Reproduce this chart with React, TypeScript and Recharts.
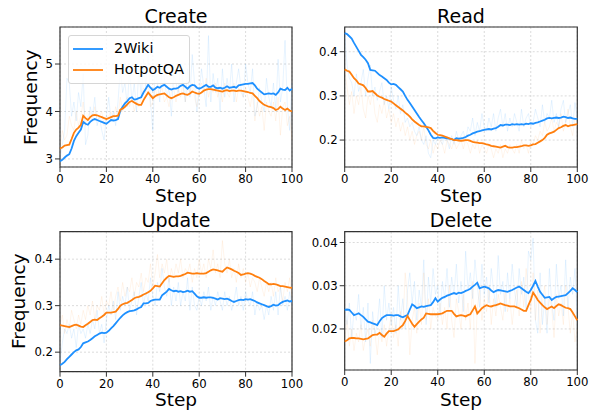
import React from 'react';
import { LineChart, Line, XAxis, YAxis, CartesianGrid, Legend, ReferenceArea } from 'recharts';

// ---------- categories / ticks ----------
const steps: number[] = Array.from({ length: 101 }, (_, i) => i);
const xTicks = [0, 20, 40, 60, 80, 100];
const seriesNames = ['2Wiki', 'HotpotQA'];
const seriesColors = ['#1E90FF', '#FF7F0E'];

// ---------- Create ----------
const createWiki = [
  2.95, 2.98, 3.03, 3.07, 3.1, 3.22, 3.38, 3.48, 3.55, 3.62, 3.78,
  3.74, 3.72, 3.78, 3.82, 3.84, 3.82, 3.8, 3.78, 3.76, 3.74,
  3.78, 3.82, 3.81, 3.82, 3.84, 4.02, 4.1, 4.17, 4.22, 4.28,
  4.3, 4.25, 4.26, 4.28, 4.3, 4.4, 4.48, 4.56, 4.5, 4.45,
  4.48, 4.52, 4.5, 4.54, 4.56, 4.52, 4.48, 4.46, 4.48, 4.48,
  4.5, 4.54, 4.56, 4.52, 4.48, 4.53, 4.56, 4.55, 4.5, 4.48,
  4.5, 4.53, 4.56, 4.52, 4.52, 4.55, 4.5, 4.49, 4.5, 4.48,
  4.5, 4.53, 4.5, 4.51, 4.52, 4.5, 4.55, 4.56, 4.57, 4.58,
  4.58, 4.59, 4.6, 4.55, 4.48, 4.44, 4.4, 4.36, 4.37, 4.38,
  4.37, 4.38, 4.35, 4.4, 4.48, 4.46, 4.45, 4.5, 4.44, 4.48,
];
const createHotpot = [
  3.22, 3.24, 3.28, 3.29, 3.3, 3.42, 3.55, 3.62, 3.66, 3.72, 3.91,
  3.86, 3.82, 3.88, 3.92, 3.93, 3.92, 3.9, 3.88, 3.86, 3.84,
  3.86, 3.88, 3.9, 3.9, 3.91, 4.04, 4.06, 4.1, 4.15, 4.2,
  4.22, 4.19, 4.16, 4.14, 4.14, 4.24, 4.32, 4.4, 4.34, 4.28,
  4.32, 4.35, 4.36, 4.37, 4.38, 4.34, 4.3, 4.28, 4.3, 4.33,
  4.35, 4.37, 4.38, 4.36, 4.35, 4.38, 4.42, 4.4, 4.38, 4.37,
  4.4, 4.44, 4.46, 4.47, 4.47, 4.46, 4.45, 4.44, 4.43, 4.42,
  4.44, 4.45, 4.43, 4.44, 4.44, 4.43, 4.44, 4.44, 4.43, 4.42,
  4.41, 4.39, 4.38, 4.33, 4.28, 4.22, 4.18, 4.14, 4.12, 4.1,
  4.09, 4.07, 4.03, 4.05, 4.1, 4.06, 4.03, 4.06, 4.02, 4.0,
];
const createWikiRaw = [
  3.0, 3.3, 3.6, 4.7, 4.6, 3.9, 4.2, 3.8, 4.4, 4.1, 4.8,
  3.3, 3.5, 4.1, 3.9, 4.3, 3.7, 3.9, 3.6, 3.4, 3.9,
  4.3, 3.8, 4.0, 3.7, 4.2, 4.9, 4.4, 4.6, 4.1, 4.9,
  4.2, 4.6, 4.0, 4.9, 4.3, 5.1, 4.5, 5.3, 4.2, 3.6,
  4.9, 4.6, 4.2, 5.0, 4.7, 4.3, 4.5, 3.9, 4.8, 4.6,
  4.4, 5.0, 4.6, 4.2, 4.9, 4.3, 5.2, 4.6, 4.0, 4.4,
  4.9, 4.5, 4.1, 5.6, 4.2, 4.8, 4.4, 4.7, 4.0, 4.9,
  4.3, 4.7, 4.4, 5.0, 4.2, 4.6, 4.9, 4.5, 4.3, 5.0,
  4.6, 4.4, 4.9, 3.9, 4.1, 4.5, 4.2, 4.0, 4.7, 4.3,
  4.1, 4.6, 4.0, 5.1, 4.2, 4.5, 5.5, 4.1, 3.6, 4.6,
];
const createHotpotRaw = [
  3.2, 3.6, 3.4, 3.5, 3.9, 3.7, 3.6, 4.0, 3.7, 3.9, 4.2,
  3.7, 3.9, 4.0, 3.8, 4.1, 3.8, 3.9, 4.0, 3.7, 3.9,
  3.9, 4.0, 3.8, 4.1, 3.9, 4.3, 4.0, 4.2, 4.3, 4.1,
  4.3, 4.0, 4.2, 4.1, 4.3, 4.5, 4.4, 4.6, 4.1, 4.2,
  4.5, 4.3, 4.4, 4.5, 4.2, 4.3, 4.1, 4.4, 4.5, 4.2,
  4.5, 4.3, 4.6, 4.2, 4.5, 4.4, 4.6, 4.3, 4.1, 4.5,
  4.6, 4.4, 4.7, 4.3, 4.5, 4.4, 4.6, 4.3, 4.5, 4.2,
  4.6, 4.4, 4.3, 4.5, 4.6, 4.2, 4.5, 4.4, 4.3, 4.5,
  4.3, 4.1, 4.4, 3.8, 4.2, 3.9, 4.1, 3.6, 4.2, 4.0,
  3.9, 4.2, 3.8, 4.3, 3.5, 4.1, 4.2, 3.7, 3.9, 3.4,
];

// ---------- Read ----------
const readWiki = [
  0.442, 0.44, 0.435, 0.43, 0.42, 0.411, 0.402, 0.393, 0.388, 0.382, 0.374,
  0.359, 0.358, 0.357, 0.352, 0.347, 0.344, 0.34, 0.336, 0.33, 0.326,
  0.327, 0.325, 0.32, 0.315, 0.31, 0.3, 0.291, 0.284, 0.276, 0.268,
  0.26, 0.252, 0.245, 0.238, 0.23, 0.222, 0.212, 0.205, 0.204, 0.206,
  0.205, 0.206, 0.205, 0.204, 0.203, 0.202, 0.2, 0.204, 0.203, 0.204,
  0.205, 0.207, 0.21, 0.212, 0.215, 0.217, 0.219, 0.22, 0.222, 0.223,
  0.224, 0.225, 0.224, 0.226, 0.227, 0.23, 0.234, 0.233, 0.235, 0.235,
  0.234, 0.236, 0.235, 0.236, 0.235, 0.236, 0.235, 0.237, 0.236, 0.238,
  0.237, 0.239, 0.24, 0.242, 0.244, 0.246, 0.249, 0.25, 0.249, 0.25,
  0.251, 0.25, 0.251, 0.253, 0.252, 0.25, 0.251, 0.249, 0.248, 0.248,
];
const readHotpot = [
  0.36, 0.357, 0.355, 0.348, 0.34, 0.335, 0.328, 0.326, 0.324, 0.318, 0.31,
  0.31, 0.311, 0.306, 0.301, 0.298, 0.296, 0.293, 0.291, 0.289, 0.287,
  0.283, 0.279, 0.275, 0.271, 0.267, 0.262, 0.258, 0.253, 0.247, 0.242,
  0.238, 0.234, 0.231, 0.231, 0.23, 0.229, 0.227, 0.221, 0.216, 0.212,
  0.211, 0.21, 0.208, 0.206, 0.204, 0.202, 0.2, 0.2, 0.199, 0.198,
  0.199, 0.2, 0.2, 0.198, 0.196, 0.195, 0.194, 0.193, 0.193, 0.192,
  0.19, 0.189, 0.187, 0.186, 0.185, 0.184, 0.183, 0.185, 0.187, 0.184,
  0.183, 0.183, 0.184, 0.184, 0.185, 0.186, 0.188, 0.188, 0.187, 0.188,
  0.19, 0.191, 0.194, 0.197, 0.2, 0.205, 0.212, 0.215, 0.217, 0.219,
  0.223, 0.227, 0.229, 0.232, 0.234, 0.231, 0.233, 0.234, 0.235, 0.236,
];
const readWikiRaw = [
  0.44, 0.37, 0.34, 0.33, 0.3, 0.35, 0.31, 0.33, 0.36, 0.3, 0.34,
  0.37, 0.3, 0.32, 0.29, 0.31, 0.33, 0.28, 0.3, 0.27, 0.32,
  0.29, 0.27, 0.3, 0.26, 0.28, 0.24, 0.25, 0.23, 0.24, 0.22,
  0.21, 0.23, 0.2, 0.19, 0.21, 0.17, 0.16, 0.2, 0.19, 0.21,
  0.2, 0.19, 0.21, 0.2, 0.18, 0.21, 0.19, 0.22, 0.2, 0.21,
  0.22, 0.2, 0.23, 0.22, 0.25, 0.21, 0.24, 0.22, 0.26, 0.23,
  0.22, 0.25, 0.23, 0.26, 0.22, 0.25, 0.27, 0.23, 0.26, 0.22,
  0.25, 0.23, 0.26, 0.24, 0.22, 0.27, 0.23, 0.25, 0.26, 0.23,
  0.24, 0.27, 0.25, 0.23, 0.28, 0.24, 0.26, 0.25, 0.29, 0.24,
  0.26, 0.23, 0.27, 0.29, 0.24, 0.26, 0.28, 0.23, 0.285, 0.25,
];
const readHotpotRaw = [
  0.36, 0.32, 0.28, 0.31, 0.26, 0.3, 0.28, 0.32, 0.27, 0.25, 0.3,
  0.28, 0.31, 0.26, 0.24, 0.28, 0.26, 0.29, 0.25, 0.27, 0.24,
  0.26, 0.23, 0.25, 0.22, 0.24, 0.21, 0.23, 0.2, 0.22, 0.19,
  0.21, 0.22, 0.2, 0.23, 0.19, 0.18, 0.2, 0.17, 0.19, 0.18,
  0.2, 0.19, 0.17, 0.2, 0.19, 0.18, 0.2, 0.18, 0.19, 0.2,
  0.18, 0.2, 0.19, 0.17, 0.19, 0.18, 0.2, 0.17, 0.19, 0.18,
  0.17, 0.19, 0.18, 0.16, 0.18, 0.17, 0.19, 0.16, 0.18, 0.17,
  0.19, 0.18, 0.17, 0.19, 0.17, 0.2, 0.18, 0.19, 0.17, 0.2,
  0.19, 0.21, 0.2, 0.22, 0.21, 0.24, 0.22, 0.23, 0.25, 0.22,
  0.24, 0.23, 0.26, 0.22, 0.24, 0.27, 0.23, 0.21, 0.25, 0.24,
];

// ---------- Update ----------
const updateWiki = [
  0.172, 0.175, 0.179, 0.185, 0.19, 0.195, 0.2, 0.204, 0.206, 0.211, 0.219,
  0.221, 0.223, 0.226, 0.23, 0.234, 0.237, 0.24, 0.242, 0.241, 0.242,
  0.246, 0.251, 0.256, 0.262, 0.268, 0.274, 0.279, 0.283, 0.286, 0.288,
  0.289, 0.29, 0.292, 0.295, 0.297, 0.305, 0.305, 0.306, 0.31, 0.312,
  0.313, 0.313, 0.313, 0.322, 0.326, 0.33, 0.336, 0.333, 0.331, 0.332,
  0.33, 0.331, 0.329, 0.33, 0.332, 0.33, 0.331, 0.326, 0.32, 0.317,
  0.317, 0.318, 0.317, 0.318, 0.318, 0.317, 0.315, 0.313, 0.316, 0.315,
  0.314, 0.315, 0.313, 0.31, 0.308, 0.31, 0.312, 0.313, 0.312, 0.314,
  0.313, 0.314, 0.312, 0.31, 0.307, 0.305, 0.303, 0.301, 0.299, 0.297,
  0.299, 0.302, 0.3, 0.301, 0.305, 0.308, 0.31, 0.311, 0.309, 0.31,
];
const updateHotpot = [
  0.258, 0.257, 0.256, 0.255, 0.254, 0.256, 0.258, 0.259, 0.257, 0.255, 0.254,
  0.258, 0.261, 0.265, 0.269, 0.27, 0.269, 0.273, 0.276, 0.28, 0.285,
  0.285, 0.285, 0.286, 0.287, 0.293, 0.3, 0.303, 0.305, 0.306, 0.309,
  0.312, 0.316, 0.318, 0.319, 0.321, 0.324, 0.326, 0.329, 0.332, 0.337,
  0.343, 0.342, 0.341, 0.348, 0.355, 0.36, 0.364, 0.363, 0.362, 0.363,
  0.363, 0.364, 0.366, 0.368, 0.371, 0.37, 0.369, 0.369, 0.37, 0.369,
  0.369, 0.369, 0.37, 0.373, 0.376, 0.378, 0.377, 0.376, 0.374, 0.373,
  0.378, 0.382, 0.38, 0.378, 0.375, 0.373, 0.37, 0.366, 0.367, 0.369,
  0.37, 0.369, 0.367, 0.364, 0.362, 0.36, 0.357, 0.353, 0.35, 0.346,
  0.346, 0.347, 0.346, 0.344, 0.342, 0.342, 0.341, 0.34, 0.339, 0.338,
];
const updateWikiRaw = [
  0.18, 0.22, 0.25, 0.24, 0.26, 0.23, 0.25, 0.21, 0.26, 0.24, 0.25,
  0.23, 0.26, 0.24, 0.27, 0.25, 0.29, 0.24, 0.26, 0.22, 0.27,
  0.3, 0.28, 0.31, 0.27, 0.33, 0.29, 0.32, 0.3, 0.34, 0.29,
  0.31, 0.33, 0.28, 0.32, 0.35, 0.3, 0.33, 0.31, 0.36, 0.32,
  0.3, 0.35, 0.33, 0.38, 0.34, 0.32, 0.36, 0.3, 0.34, 0.31,
  0.35, 0.3, 0.33, 0.31, 0.36, 0.29, 0.34, 0.3, 0.29, 0.32,
  0.3, 0.33, 0.31, 0.34, 0.29, 0.32, 0.3, 0.33, 0.31, 0.29,
  0.33, 0.3, 0.32, 0.29, 0.31, 0.34, 0.3, 0.32, 0.29, 0.33,
  0.31, 0.3, 0.33, 0.28, 0.31, 0.29, 0.3, 0.27, 0.3, 0.28,
  0.32, 0.29, 0.33, 0.28, 0.34, 0.3, 0.32, 0.29, 0.33, 0.3,
];
const updateHotpotRaw = [
  0.26, 0.28, 0.24, 0.27, 0.25, 0.29, 0.27, 0.25, 0.28, 0.26, 0.29,
  0.27, 0.3, 0.28, 0.31, 0.27, 0.3, 0.29, 0.32, 0.28, 0.31,
  0.3, 0.33, 0.29, 0.32, 0.34, 0.31, 0.35, 0.32, 0.34, 0.33,
  0.36, 0.32, 0.35, 0.34, 0.37, 0.33, 0.36, 0.35, 0.39, 0.34,
  0.37, 0.41, 0.36, 0.39, 0.37, 0.4, 0.35, 0.38, 0.36, 0.39,
  0.37, 0.4, 0.36, 0.38, 0.37, 0.39, 0.35, 0.38, 0.36, 0.4,
  0.37, 0.39, 0.36, 0.4, 0.38, 0.42, 0.37, 0.39, 0.36, 0.44,
  0.39, 0.37, 0.4, 0.36, 0.38, 0.35, 0.39, 0.36, 0.38, 0.35,
  0.37, 0.34, 0.36, 0.35, 0.33, 0.36, 0.34, 0.32, 0.35, 0.33,
  0.35, 0.32, 0.36, 0.33, 0.34, 0.31, 0.35, 0.33, 0.36, 0.32,
];

// ---------- Delete ----------
const deleteWiki = [
  0.0244, 0.0245, 0.0244, 0.0238, 0.0232, 0.0234, 0.0236, 0.0232, 0.0228, 0.0222, 0.0217,
  0.0215, 0.0213, 0.0211, 0.0209, 0.0218, 0.0225, 0.0229, 0.0232, 0.0232, 0.0232,
  0.0231, 0.0232, 0.0232, 0.0229, 0.0227, 0.023, 0.0232, 0.0245, 0.0257, 0.0253,
  0.0248, 0.025, 0.0252, 0.0251, 0.0253, 0.0254, 0.0255, 0.0262, 0.0271, 0.0263,
  0.0268, 0.0272, 0.0274, 0.0277, 0.0279, 0.0281, 0.0283, 0.0281, 0.0284, 0.0283,
  0.0285, 0.0288, 0.029, 0.0293, 0.0298, 0.0302, 0.0307, 0.0294, 0.0296, 0.0298,
  0.0296, 0.0294, 0.0289, 0.0285, 0.0288, 0.029, 0.0289, 0.0288, 0.0287, 0.0286,
  0.0288, 0.029, 0.0293, 0.0296, 0.0298, 0.0294, 0.029, 0.0286, 0.0283, 0.029,
  0.03, 0.0311, 0.0298, 0.0286, 0.0279, 0.0272, 0.0273, 0.0274, 0.0267, 0.0271,
  0.0274, 0.0275, 0.0276, 0.0277, 0.0278, 0.0283, 0.0288, 0.0294, 0.029, 0.0285,
];
const deleteHotpot = [
  0.0171, 0.0174, 0.0178, 0.0179, 0.0179, 0.0178, 0.0178, 0.0177, 0.0176, 0.0177, 0.0178,
  0.0182, 0.0186, 0.0187, 0.0187, 0.0191, 0.0186, 0.0182, 0.0189, 0.0195, 0.0195,
  0.0195, 0.0197, 0.0199, 0.0204, 0.0209, 0.0218, 0.023, 0.0221, 0.0212, 0.0205,
  0.0211, 0.0217, 0.0222, 0.0226, 0.0236, 0.0235, 0.0234, 0.0234, 0.0234, 0.0234,
  0.0235, 0.0236, 0.0239, 0.0242, 0.0242, 0.0242, 0.0235, 0.0229, 0.0231, 0.0232,
  0.0231, 0.0229, 0.0232, 0.0234, 0.0243, 0.0252, 0.0236, 0.0242, 0.0248, 0.0252,
  0.0255, 0.0253, 0.0252, 0.0254, 0.0255, 0.0257, 0.0259, 0.0257, 0.0255, 0.0254,
  0.0252, 0.0252, 0.0252, 0.025, 0.0248, 0.0245, 0.0242, 0.0242, 0.0255, 0.0267,
  0.0284, 0.0276, 0.0267, 0.0261, 0.0255, 0.025, 0.0246, 0.0249, 0.0252, 0.0248,
  0.0253, 0.0257, 0.0255, 0.0252, 0.0249, 0.0248, 0.0246, 0.0238, 0.0229, 0.022,
];
const deleteWikiRaw = [
  0.025, 0.021, 0.026, 0.018, 0.024, 0.022, 0.028, 0.02, 0.025, 0.017, 0.026,
  0.012, 0.024, 0.019, 0.021, 0.027, 0.018, 0.03, 0.022, 0.026, 0.021,
  0.025, 0.019, 0.03, 0.022, 0.027, 0.02, 0.029, 0.033, 0.026, 0.031,
  0.022, 0.029, 0.025, 0.036, 0.021, 0.032, 0.026, 0.034, 0.028, 0.03,
  0.023, 0.031, 0.027, 0.034, 0.025, 0.032, 0.028, 0.035, 0.026, 0.031,
  0.024, 0.038, 0.029, 0.033, 0.027, 0.036, 0.03, 0.025, 0.035, 0.028,
  0.032, 0.026, 0.034, 0.029, 0.025, 0.037, 0.028, 0.031, 0.024, 0.033,
  0.027, 0.035, 0.029, 0.025, 0.034, 0.028, 0.032, 0.024, 0.038, 0.036,
  0.041, 0.022, 0.019, 0.033, 0.021, 0.027, 0.019, 0.034, 0.026, 0.022,
  0.035, 0.027, 0.03, 0.023, 0.036, 0.025, 0.032, 0.028, 0.034, 0.022,
];
const deleteHotpotRaw = [
  0.017, 0.022, 0.016, 0.02, 0.015, 0.019, 0.017, 0.021, 0.015, 0.018, 0.02,
  0.016, 0.022, 0.019, 0.014, 0.02, 0.017, 0.021, 0.016, 0.02, 0.023,
  0.018, 0.021, 0.016, 0.024, 0.02, 0.033, 0.027, 0.014, 0.022, 0.025,
  0.019, 0.026, 0.021, 0.033, 0.022, 0.027, 0.02, 0.025, 0.023, 0.022,
  0.026, 0.021, 0.025, 0.02, 0.03, 0.022, 0.018, 0.027, 0.024, 0.02,
  0.028, 0.022, 0.026, 0.02, 0.031, 0.012, 0.025, 0.029, 0.022, 0.027,
  0.024, 0.03, 0.021, 0.027, 0.023, 0.028, 0.025, 0.022, 0.029, 0.024,
  0.027, 0.021, 0.026, 0.029, 0.023, 0.031, 0.025, 0.034, 0.028, 0.024,
  0.033, 0.022, 0.029, 0.019, 0.026, 0.03, 0.021, 0.027, 0.025, 0.018,
  0.028, 0.023, 0.026, 0.021, 0.03, 0.025, 0.019, 0.024, 0.017, 0.02,
];

// ---------- y ticks ----------
const createTicks = [3, 4, 5];
const readTicks = [0.2, 0.3, 0.4];
const updateTicks = [0.2, 0.3, 0.4];
const deleteTicks = [0.02, 0.03, 0.04];

const FONT = '"DejaVu Sans", "Liberation Sans", sans-serif';

function buildRows(w: number[], h: number[], wr: number[], hr: number[]) {
  return steps.map((s, i) => ({ step: s, w: w[i], h: h[i], wr: wr[i], hr: hr[i] }));
}

function LegendBox() {
  return (
    <div
      style={{
        width: 120,
        height: 45,
        border: '1px solid #d6d6d6',
        borderRadius: 3,
        background: 'rgba(255,255,255,0.8)',
        paddingTop: 2,
        boxSizing: 'content-box',
        fontFamily: FONT,
      }}
    >
      {seriesNames.map((n, i) => (
        <div key={n} style={{ display: 'flex', alignItems: 'center', height: 21, paddingLeft: 4 }}>
          <svg width={30} height={4} style={{ display: 'block' }}>
            <line x1={0} y1={2} x2={30} y2={2} stroke={seriesColors[i]} strokeWidth={1.8} />
          </svg>
          <span style={{ marginLeft: 11, fontSize: 14.4, lineHeight: '21px', color: '#000' }}>{n}</span>
        </div>
      ))}
    </div>
  );
}

type PanelProps = {
  left: number;
  top: number;
  width: number;
  height: number;
  marginTop: number;
  marginRight: number;
  yWidth: number;
  xHeight: number;
  data: any[];
  domain: [number, number];
  ticks: number[];
  fmt: (v: number) => string;
  title: string;
  titleTop: number;
  stepTop: number;
  yLabelX?: number;
  legend?: boolean;
};

function Panel(p: PanelProps) {
  const plotLeft = p.yWidth;
  const plotRight = p.width - p.marginRight;
  const plotTop = p.marginTop;
  const plotBottom = p.height - p.xHeight;
  const plotW = plotRight - plotLeft;
  const plotCenterY = (plotTop + plotBottom) / 2;
  const tickStyle = { fontSize: 11.7, fill: '#000', fontFamily: FONT };
  return (
    <div style={{ position: 'absolute', left: p.left, top: p.top, width: p.width, height: p.height }}>
      <LineChart
        width={p.width}
        height={p.height}
        data={p.data}
        margin={{ top: p.marginTop, right: p.marginRight, left: 0, bottom: 0 }}
      >
        <CartesianGrid stroke="#d2d2d2" strokeDasharray="2 2" strokeWidth={0.8} />
        <XAxis
          dataKey="step"
          type="number"
          domain={[0, 100]}
          ticks={xTicks}
          height={p.xHeight}
          tickSize={5}
          tickMargin={3}
          axisLine={false}
          tickLine={{ stroke: '#333', strokeWidth: 1 }}
          tick={tickStyle}
          interval={0}
        />
        <YAxis
          type="number"
          domain={p.domain}
          ticks={p.ticks}
          allowDataOverflow
          width={p.yWidth}
          tickSize={5}
          tickMargin={2}
          axisLine={false}
          tickLine={{ stroke: '#333', strokeWidth: 1 }}
          tick={tickStyle}
          tickFormatter={p.fmt}
          interval={0}
        />
        <Line dataKey="wr" stroke={seriesColors[0]} strokeOpacity={0.1} strokeWidth={1} dot={false} isAnimationActive={false} legendType="none" />
        <Line dataKey="hr" stroke={seriesColors[1]} strokeOpacity={0.08} strokeWidth={1} dot={false} isAnimationActive={false} legendType="none" />
        <Line dataKey="w" name={seriesNames[0]} stroke={seriesColors[0]} strokeWidth={1.8} dot={false} isAnimationActive={false} />
        <Line dataKey="h" name={seriesNames[1]} stroke={seriesColors[1]} strokeWidth={1.8} dot={false} isAnimationActive={false} />
        <ReferenceArea
          x1={0}
          x2={100}
          y1={p.domain[0]}
          y2={p.domain[1]}
          fill="none"
          fillOpacity={0}
          stroke="#333"
          strokeWidth={1.2}
          ifOverflow="visible"
        />
        {p.legend && (
          <Legend
            layout="vertical"
            align="center"
            verticalAlign="middle"
            wrapperStyle={{ left: 68, top: 35, width: 122, height: 47 }}
            content={() => <LegendBox />}
          />
        )}
      </LineChart>
      <div
        style={{
          position: 'absolute',
          left: plotLeft,
          width: plotW,
          top: p.titleTop,
          textAlign: 'center',
          fontSize: 19,
          lineHeight: '19px',
          fontFamily: FONT,
          color: '#000',
        }}
      >
        {p.title}
      </div>
      <div
        style={{
          position: 'absolute',
          left: plotLeft,
          width: plotW,
          top: p.stepTop,
          textAlign: 'center',
          fontSize: 18.5,
          lineHeight: '18.5px',
          fontFamily: FONT,
          color: '#000',
        }}
      >
        Step
      </div>
      {p.yLabelX !== undefined && (
        <div
          style={{
            position: 'absolute',
            left: p.yLabelX - 100,
            width: 200,
            top: plotCenterY - 9.25,
            textAlign: 'center',
            fontSize: 18.5,
            lineHeight: '18.5px',
            fontFamily: FONT,
            color: '#000',
            transform: 'rotate(-90deg)',
          }}
        >
          Frequency
        </div>
      )}
    </div>
  );
}

export default function App() {
  const createData = buildRows(createWiki, createHotpot, createWikiRaw, createHotpotRaw);
  const readData = buildRows(readWiki, readHotpot, readWikiRaw, readHotpotRaw);
  const updateData = buildRows(updateWiki, updateHotpot, updateWikiRaw, updateHotpotRaw);
  const deleteData = buildRows(deleteWiki, deleteHotpot, deleteWikiRaw, deleteHotpotRaw);
  return (
    <div style={{ position: 'absolute', left: 0, top: 0, width: 598, height: 410, background: '#fff', overflow: 'hidden' }}>
      <Panel
        left={0} top={0} width={320} height={205}
        marginTop={27} marginRight={28} yWidth={60} xHeight={38}
        data={createData} domain={[2.83, 5.78]} ticks={createTicks}
        fmt={(v) => String(v)} title="Create" titleTop={7} stepTop={186.9} yLabelX={30.6} legend
      />
      <Panel
        left={300} top={0} width={298} height={205}
        marginTop={27} marginRight={20.7} yWidth={44.7} xHeight={38}
        data={readData} domain={[0.139, 0.456]} ticks={readTicks}
        fmt={(v) => v.toFixed(1)} title="Read" titleTop={7} stepTop={186.9}
      />
      <Panel
        left={0} top={205} width={320} height={205}
        marginTop={26.7} marginRight={28} yWidth={60} xHeight={38.3}
        data={updateData} domain={[0.158, 0.459]} ticks={updateTicks}
        fmt={(v) => v.toFixed(1)} title="Update" titleTop={6} stepTop={186.2} yLabelX={18.7}
      />
      <Panel
        left={300} top={205} width={298} height={205}
        marginTop={26.7} marginRight={20.7} yWidth={44.7} xHeight={40}
        data={deleteData} domain={[0.0105, 0.0425]} ticks={deleteTicks}
        fmt={(v) => v.toFixed(2)} title="Delete" titleTop={6} stepTop={186.2}
      />
    </div>
  );
}
